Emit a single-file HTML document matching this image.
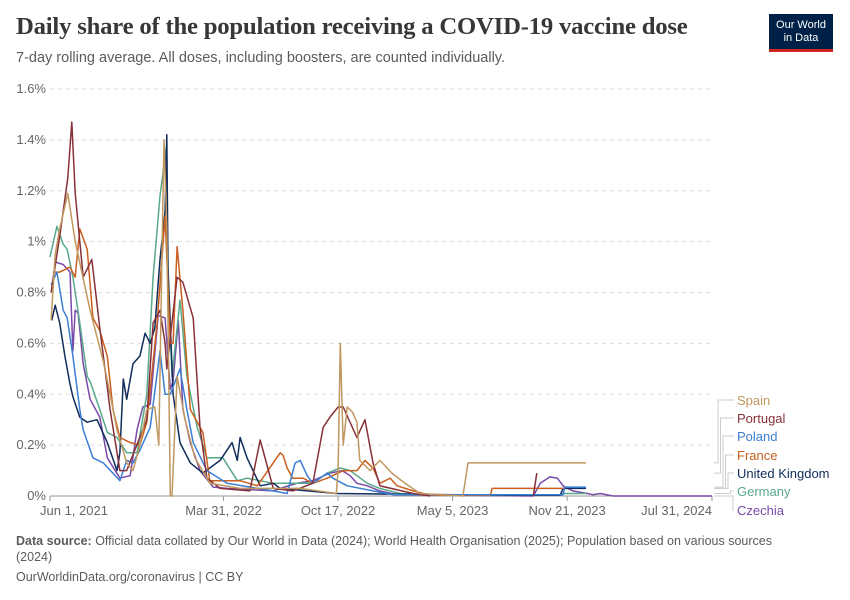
<!DOCTYPE html>
<html><head><meta charset="utf-8"><style>
body{margin:0;background:#fff;font-family:"Liberation Sans",sans-serif;}
#wrap{position:relative;width:850px;height:600px;overflow:hidden}
.t{position:absolute;white-space:nowrap}
</style></head><body><div id="wrap">
<div class="t" style="left:16px;top:13px;font:bold 24.7px 'Liberation Serif',serif;color:#373737;letter-spacing:-0.2px">Daily share of the population receiving a COVID-19 vaccine dose</div>
<div class="t" style="left:16px;top:50px;font-size:14.5px;color:#5b5b5b">7-day rolling average. All doses, including boosters, are counted individually.</div>
<div style="position:absolute;left:769px;top:14px;width:64px;height:38px;background:#002147;border-bottom:3px solid #ce261e;box-sizing:border-box;color:#fff;font-size:11px;line-height:13px;text-align:center;padding-top:5px">Our World<br>in Data</div>
<svg id="chart" width="850" height="600" style="position:absolute;left:0;top:0"></svg>
<div class="t" style="left:16px;top:533px;font-size:12.5px;color:#5b5b5b;line-height:16px;white-space:normal;width:780px"><b>Data source:</b> Official data collated by Our World in Data (2024); World Health Organisation (2025); Population based on various sources (2024)</div>
<div class="t" style="left:16px;top:570px;font-size:12.5px;color:#5b5b5b">OurWorldinData.org/coronavirus | CC BY</div>
</div>
<script>
const yTicks=[0,0.2,0.4,0.6,0.8,1,1.2,1.4,1.6];
const yTickLabels=["0%","0.2%","0.4%","0.6%","0.8%","1%","1.2%","1.4%","1.6%"];
const xTickDays=[0,303,503,703,903,1156];
const xTickLabels=["Jun 1, 2021","Mar 31, 2022","Oct 17, 2022","May 5, 2023","Nov 21, 2023","Jul 31, 2024"];
const seriesNames=["Spain","Portugal","Poland","France","United Kingdom","Germany","Czechia"];
const seriesColors=["#c0975f","#883039","#3b7fd4","#c9601f","#102d5b","#58a98a","#7a4aa8"];
const spainDays=[2,9,17,31,44,70,93,105,117,134,145,157,169,183,190,196,199,204,210,213,222,236,253,279,332,437,500,503,507,512,519,528,536,541,559,576,597,620,646,721,730,936];
const spainVals=[0.69,0.95,1.05,1.19,1.0,0.73,0.53,0.4,0.26,0.13,0.1,0.2,0.34,0.35,0.2,1.0,1.4,1.06,0,0,0.47,0.3,0.15,0.05,0.03,0.03,0.01,0.1,0.6,0.2,0.35,0.33,0.29,0.14,0.1,0.14,0.09,0.05,0.01,0,0.13,0.13];
const portugalDays=[2,17,31,38,44,58,73,87,105,122,134,169,180,192,201,204,222,232,250,262,274,297,349,367,390,424,459,477,489,503,512,536,550,564,576,634,664,null,844,850];
const portugalVals=[0.8,1.02,1.25,1.47,1.19,0.86,0.93,0.66,0.34,0.1,0.1,0.3,0.68,0.73,0.6,0.5,0.86,0.84,0.7,0.27,0.07,0.03,0.02,0.22,0.03,0.02,0.05,0.27,0.31,0.35,0.35,0.23,0.3,0.13,0.04,0.01,0,null,0,0.09];
const polandDays=[2,12,23,30,40,52,58,75,93,122,134,145,157,175,192,201,210,227,239,250,274,309,390,414,428,437,449,459,484,494,519,564,600,896,899,936];
const polandVals=[0.83,0.88,0.73,0.7,0.55,0.34,0.26,0.15,0.13,0.06,0.14,0.13,0.18,0.27,0.57,0.4,0.4,0.5,0.34,0.21,0.1,0.05,0.02,0.01,0.13,0.14,0.08,0.05,0.09,0.07,0.04,0.02,0.005,0.005,0.035,0.035];
const franceDays=[5,17,35,44,52,65,75,87,100,110,122,140,157,169,187,201,210,215,222,232,245,267,279,332,362,402,407,414,424,442,459,484,512,536,550,564,576,594,606,634,664,769,772,899];
const franceVals=[0.88,0.88,0.9,0.86,1.05,0.97,0.7,0.65,0.55,0.34,0.23,0.21,0.2,0.29,0.68,1.1,0.6,0.6,0.98,0.73,0.34,0.25,0.06,0.06,0.04,0.17,0.16,0.11,0.07,0.07,0.05,0.07,0.1,0.1,0.14,0.11,0.05,0.07,0.04,0.02,0.003,0.003,0.03,0.03];
const ukDays=[3,9,17,26,35,40,52,65,82,100,117,122,128,134,145,157,166,175,183,192,201,204,206,215,227,245,267,297,318,327,332,344,367,390,402,500,800,891,896,936];
const ukVals=[0.69,0.75,0.68,0.55,0.44,0.39,0.31,0.29,0.3,0.21,0.1,0.17,0.46,0.38,0.52,0.55,0.64,0.6,0.66,0.93,1.12,1.42,0.9,0.4,0.21,0.13,0.09,0.14,0.21,0.14,0.23,0.15,0.04,0.05,0.03,0.01,0.003,0.003,0.03,0.03];
const germanyDays=[0,12,23,30,40,52,65,70,87,100,117,134,152,169,180,192,203,206,213,227,239,257,274,302,327,344,367,390,424,459,484,507,524,554,576,611,700,891,896,936];
const germanyVals=[0.94,1.06,0.99,0.97,0.86,0.68,0.47,0.45,0.34,0.25,0.23,0.17,0.17,0.4,0.86,1.18,1.37,0.86,0.47,0.77,0.47,0.27,0.15,0.15,0.06,0.07,0.06,0.05,0.05,0.05,0.09,0.11,0.1,0.05,0.03,0.01,0.003,0.003,0.01,0.01];
const czechiaDays=[3,9,23,35,40,44,49,58,70,87,100,122,140,152,162,175,189,201,210,215,224,232,245,262,285,309,390,402,431,459,489,510,524,536,554,576,606,844,856,873,886,896,913,938,948,961,983,1156];
const czechiaVals=[0.81,0.92,0.91,0.88,0.57,0.73,0.72,0.52,0.38,0.31,0.15,0.07,0.08,0.26,0.35,0.36,0.71,0.7,0.42,0.45,0.69,0.34,0.21,0.1,0.035,0.03,0.02,0.03,0.05,0.06,0.09,0.1,0.08,0.05,0.04,0.02,0.005,0,0.05,0.075,0.07,0.04,0.02,0.01,0.005,0.01,0,0];

const NS="http://www.w3.org/2000/svg";
const svg=document.getElementById('chart');
const X0=50,X1=712,Y0=496,Y1=89,DMAX=1156,VMAX=1.6;
function xs(d){return X0+d*(X1-X0)/DMAX;}
function ys(v){return Y0-v*(Y0-Y1)/VMAX;}
function mk(tag,attrs){const e=document.createElementNS(NS,tag);for(const k in attrs)e.setAttribute(k,attrs[k]);svg.appendChild(e);return e;}
yTicks.forEach((t,i)=>{
  if(t>0){const g=mk('line',{x1:X0,x2:X1,y1:ys(t),y2:ys(t),stroke:'#dddddd','stroke-dasharray':'4,4'});
  
  }
  const l=mk('text',{x:46,y:ys(t)+4,'text-anchor':'end','font-size':13,fill:'#666','font-family':'Liberation Sans,sans-serif'});
  l.textContent=yTickLabels[i];
  
  
});
const ax=mk('line',{x1:X0,x2:X1,y1:Y0,y2:Y0,stroke:'#999'});


xTickDays.forEach((d,i)=>{
  const tk=mk('line',{x1:xs(d),x2:xs(d),y1:Y0,y2:Y0+5,stroke:'#999'});
  
  
  const last=i===xTickDays.length-1;
  const l=mk('text',{x:last?xs(d):xs(d)+(i===0?-10:0),y:Y0+19,'text-anchor':last?'end':(i===0?'start':'middle'),'font-size':13,fill:'#666','font-family':'Liberation Sans,sans-serif'});
  l.textContent=xTickLabels[i];
  
  
});
const allDays=[spainDays,portugalDays,polandDays,franceDays,ukDays,germanyDays,czechiaDays];
const allVals=[spainVals,portugalVals,polandVals,franceVals,ukVals,germanyVals,czechiaVals];
for(let s=allDays.length-1;s>=0;s--){
  let dstr='',pen=false;const n=Math.min(allDays[s].length,allVals[s].length);
  for(let i=0;i<n;i++){const d=allDays[s][i],v=allVals[s][i];
    if(d===null||v===null){pen=false;continue;}
    dstr+=(pen?'L':'M')+xs(d).toFixed(1)+','+ys(v).toFixed(1);pen=true;}
  const p=mk('path',{d:dstr,fill:'none',stroke:seriesColors[s],'stroke-width':1.5,'stroke-linejoin':'round'});
  
  
}
const legY=[404,422,440,459,477,495,514];
legY.forEach((ly,i)=>{
  const s=allVals[i];let last=0;for(let k=s.length-1;k>=0;k--){if(s[k]!==null){last=s[k];break;}}
  const ey=ys(last), bx=718+i*2.5;
  const c=mk('polyline',{points:`${X1+2},${ey} ${bx},${ey} ${bx},${ly-4} 734,${ly-4}`,fill:'none',stroke:'#ccc'});
  
  
  const t=mk('text',{x:737,y:ly+1,'font-size':13,fill:seriesColors[i],'font-family':'Liberation Sans,sans-serif'});
  t.textContent=seriesNames[i];
  
  
});
</script></body></html>
